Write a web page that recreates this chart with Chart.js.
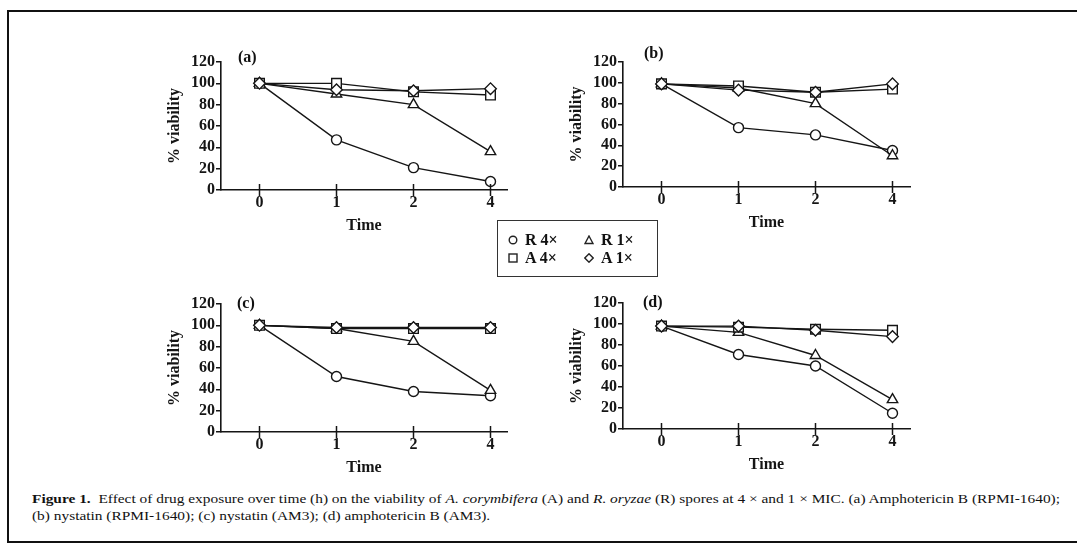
<!DOCTYPE html>
<html><head><meta charset="utf-8">
<script src="https://cdn.jsdelivr.net/npm/chart.js@4.4.1/dist/chart.umd.min.js"></script>
<style>
html,body{margin:0;padding:0;background:#fff;}
body{width:1077px;height:546px;position:relative;overflow:hidden;font-family:"Liberation Serif","Times New Roman",serif;color:#111;}
#frame{position:absolute;left:7px;top:10px;width:1300px;height:533px;border:2px solid #111;border-right:none;box-sizing:border-box;}
canvas{position:absolute;}
.plabel{position:absolute;font-size:16px;line-height:16px;font-weight:bold;}
#legend{position:absolute;left:497px;top:220px;width:161px;height:57px;border:1.5px solid #333;box-sizing:border-box;}
.lg{position:absolute;font-size:16px;line-height:16px;white-space:nowrap;font-weight:bold;}
.lg svg{position:absolute;left:-17px;top:3px;}
#cap{position:absolute;left:32px;top:490px;font-size:13px;line-height:17px;white-space:nowrap;transform-origin:0 0;}
</style></head>
<body>
<div id="frame"></div>
<canvas id="pa"></canvas><canvas id="pb"></canvas><canvas id="pc"></canvas><canvas id="pd"></canvas>
<div class="plabel" style="left:238px;top:49px;">(a)</div>
<div class="plabel" style="left:644px;top:45px;">(b)</div>
<div class="plabel" style="left:237px;top:295px;">(c)</div>
<div class="plabel" style="left:643px;top:294px;">(d)</div>
<div id="legend"></div>
<div class="lg" style="left:525px;top:232px;"><svg width="10" height="10"><circle cx="5" cy="5" r="3.8" fill="#fff" stroke="#222" stroke-width="1.4"/></svg>R 4×</div>
<div class="lg" style="left:601px;top:232px;"><svg width="10" height="10"><polygon points="5,1 9,8.5 1,8.5" fill="#fff" stroke="#222" stroke-width="1.4"/></svg>R 1×</div>
<div class="lg" style="left:525px;top:250px;"><svg width="10" height="10"><rect x="1" y="1" width="8" height="8" fill="#fff" stroke="#222" stroke-width="1.4"/></svg>A 4×</div>
<div class="lg" style="left:601px;top:250px;"><svg width="10" height="10"><polygon points="5,0.8 9.2,5 5,9.2 0.8,5" fill="#fff" stroke="#222" stroke-width="1.4"/></svg>A 1×</div>
<div id="cap">
<div><span id="l1"><b>Figure 1.</b>&nbsp; Effect of drug exposure over time (h) on the viability of <i>A. corymbifera</i> (A) and <i>R. oryzae</i> (R) spores at 4 × and 1 × MIC. (a) Amphotericin B (RPMI-1640);</span></div>
<div>(b) nystatin (RPMI-1640); (c) nystatin (AM3); (d) amphotericin B (AM3).</div>
</div>
<script>
// ---- data ----
const categories = ['0', '1', '2', '4'];
const seriesNames = ['R 4×', 'R 1×', 'A 4×', 'A 1×'];
const markerStyles = ['circle', 'triangle', 'rect', 'rectRot'];

const a_R4 = [100, 47, 21, 8];
const a_R1 = [100, 90, 80, 36];
const a_A4 = [100, 100, 92, 89];
const a_A1 = [100, 94, 93, 95];

const b_R4 = [99, 57, 50, 35];
const b_R1 = [99, 95, 80, 30];
const b_A4 = [99, 97, 91, 94];
const b_A1 = [99, 93, 91, 99];

const c_R4 = [100, 52, 38, 34];
const c_R1 = [100, 97, 85, 39];
const c_A4 = [100, 97, 97, 97];
const c_A1 = [100, 98, 98, 98];

const d_R4 = [98, 71, 60, 15];
const d_R1 = [98, 92, 70, 28];
const d_A4 = [98, 97, 95, 94];
const d_A1 = [98, 98, 94, 88];

const yAxisTitle = '% viability';
const xAxisTitle = 'Time';

// ---- drawing ----
const INK = '#151515';
const FONT = {family: "'Liberation Serif','Times New Roman',serif", size: 16, weight: 'bold'};
const markerRadius = {circle: 5, triangle: 6, rect: 6.8, rectRot: 5.8};

const crossTicks = {
  id: 'crossTicks',
  afterDraw(chart) {
    const s = chart.scales.x, ctx = chart.ctx, y0 = chart.chartArea.bottom;
    ctx.save(); ctx.strokeStyle = INK; ctx.lineWidth = 1.5;
    s.ticks.forEach(t => {
      const x = s.getPixelForValue(t.value);
      ctx.beginPath(); ctx.moveTo(x, y0 - 6); ctx.lineTo(x, y0 + 6); ctx.stroke();
    });
    ctx.restore();
  }
};

function makePanel(id, area, seriesList) {
  const L = 75, T = 25, R = 15, B = 50;
  const cv = document.getElementById(id);
  const w = area.right - area.left + L + R, h = area.bottom - area.top + T + B;
  cv.width = w; cv.height = h;
  cv.style.width = w + 'px'; cv.style.height = h + 'px';
  cv.style.left = (area.left - L) + 'px'; cv.style.top = (area.top - T) + 'px';
  const xMax = -0.5 + (area.right - area.left) / 77;
  const order = [3, 2, 1, 0];
  const datasets = order.map(k => ({
    label: seriesNames[k],
    data: seriesList[k].map((v, i) => ({x: i, y: v})),
    borderColor: INK, borderWidth: 1.4, tension: 0,
    pointStyle: markerStyles[k], pointRadius: markerRadius[markerStyles[k]],
    pointBackgroundColor: '#fff', pointBorderColor: INK, pointBorderWidth: 1.4,
    clip: false
  }));
  new Chart(cv, {
    type: 'line',
    data: {datasets},
    plugins: [crossTicks],
    options: {
      responsive: false, animation: false, devicePixelRatio: 1,
      layout: {padding: {top: T, right: R, left: 0, bottom: 0}},
      plugins: {legend: {display: false}, tooltip: {enabled: false}},
      scales: {
        x: {
          type: 'linear', min: -0.5, max: xMax,
          afterBuildTicks: s => { s.ticks = categories.map((c, i) => ({value: i})); },
          afterFit: s => { s.height = B; },
          ticks: {callback: v => categories[v], font: FONT, color: INK, padding: 3, maxRotation: 0, autoSkip: false},
          grid: {display: false, drawTicks: false, drawOnChartArea: false},
          border: {display: true, color: INK, width: 1.6},
          title: {display: true, text: xAxisTitle, font: FONT, color: INK, padding: {top: 0, bottom: 5}}
        },
        y: {
          min: 0, max: 120,
          afterFit: s => { s.width = L; },
          ticks: {stepSize: 20, font: FONT, color: INK, padding: 1, autoSkip: false},
          grid: {display: true, drawOnChartArea: false, drawTicks: true, tickLength: 5, color: INK, lineWidth: 1.5},
          border: {display: true, color: INK, width: 1.6},
          title: {display: true, text: yAxisTitle, font: FONT, color: INK, padding: {top: 19, bottom: 0}}
        }
      }
    }
  });
}

makePanel('pa', {left: 221, top: 62, right: 507, bottom: 190}, [a_R4, a_R1, a_A4, a_A1]);
makePanel('pb', {left: 623, top: 62, right: 910, bottom: 187}, [b_R4, b_R1, b_A4, b_A1]);
makePanel('pc', {left: 221, top: 304, right: 507, bottom: 432}, [c_R4, c_R1, c_A4, c_A1]);
makePanel('pd', {left: 623, top: 303, right: 910, bottom: 429}, [d_R4, d_R1, d_A4, d_A1]);

// fit caption line 1 to its width in the reference
const l1 = document.getElementById('l1');
const wl = l1.getBoundingClientRect().width;
document.getElementById('cap').style.transform = 'scaleX(' + (1028 / wl) + ')';
</script>
</body></html>
